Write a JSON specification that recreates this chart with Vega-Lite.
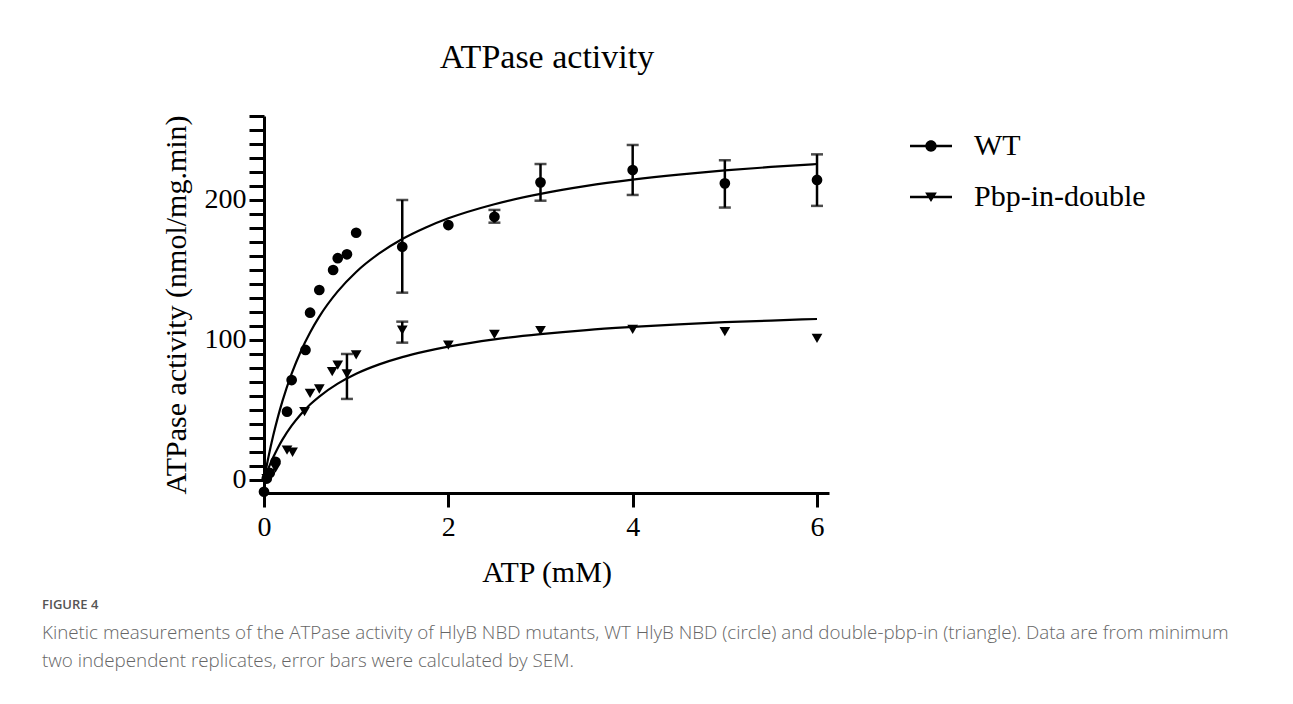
{
  "$schema": "https://vega.github.io/schema/vega-lite/v6.json",
  "width": 565,
  "height": 377,
  "autosize": {"type": "none"},
  "padding": {"left": 264, "top": 116, "right": 464, "bottom": 211},
  "background": "white",
  "datasets": {
    "points": [
      {"series": "WT", "atp": 0, "rate": -8.4},
      {"series": "WT", "atp": 0.03, "rate": 1},
      {"series": "WT", "atp": 0.0625, "rate": 5},
      {"series": "WT", "atp": 0.125, "rate": 13},
      {"series": "WT", "atp": 0.25, "rate": 48.8},
      {"series": "WT", "atp": 0.3, "rate": 71.4},
      {"series": "WT", "atp": 0.45, "rate": 92.9},
      {"series": "WT", "atp": 0.5, "rate": 119.5},
      {"series": "WT", "atp": 0.6, "rate": 135.7},
      {"series": "WT", "atp": 0.75, "rate": 150},
      {"series": "WT", "atp": 0.8, "rate": 158.4},
      {"series": "WT", "atp": 0.9, "rate": 161.2},
      {"series": "WT", "atp": 1.0, "rate": 176.6},
      {"series": "WT", "atp": 1.5, "rate": 166.6},
      {"series": "WT", "atp": 2, "rate": 182.1},
      {"series": "WT", "atp": 2.5, "rate": 188},
      {"series": "WT", "atp": 3, "rate": 212.6},
      {"series": "WT", "atp": 4, "rate": 221.4},
      {"series": "WT", "atp": 5, "rate": 211.9},
      {"series": "WT", "atp": 6, "rate": 214.3},
      {"series": "Pbp-in-double", "atp": 0.03, "rate": 1},
      {"series": "Pbp-in-double", "atp": 0.0625, "rate": 4.5},
      {"series": "Pbp-in-double", "atp": 0.125, "rate": 8.5},
      {"series": "Pbp-in-double", "atp": 0.25, "rate": 21.4},
      {"series": "Pbp-in-double", "atp": 0.31, "rate": 19.8},
      {"series": "Pbp-in-double", "atp": 0.44, "rate": 48.8},
      {"series": "Pbp-in-double", "atp": 0.5, "rate": 61.9},
      {"series": "Pbp-in-double", "atp": 0.6, "rate": 65},
      {"series": "Pbp-in-double", "atp": 0.74, "rate": 77.4},
      {"series": "Pbp-in-double", "atp": 0.8, "rate": 82.1},
      {"series": "Pbp-in-double", "atp": 0.9, "rate": 75.7},
      {"series": "Pbp-in-double", "atp": 1.0, "rate": 89.3},
      {"series": "Pbp-in-double", "atp": 1.5, "rate": 107.1},
      {"series": "Pbp-in-double", "atp": 2, "rate": 96.4},
      {"series": "Pbp-in-double", "atp": 2.5, "rate": 104},
      {"series": "Pbp-in-double", "atp": 3, "rate": 106.7},
      {"series": "Pbp-in-double", "atp": 4, "rate": 107.6},
      {"series": "Pbp-in-double", "atp": 5, "rate": 106},
      {"series": "Pbp-in-double", "atp": 6, "rate": 101.2}
    ],
    "errs": [
      {"series": "WT", "atp": 1.5, "lo": 133.8, "hi": 200},
      {"series": "WT", "atp": 2.5, "lo": 183.8, "hi": 192.9},
      {"series": "WT", "atp": 3, "lo": 199.5, "hi": 225.7},
      {"series": "WT", "atp": 4, "lo": 203.6, "hi": 239.3},
      {"series": "WT", "atp": 5, "lo": 194.6, "hi": 228.4},
      {"series": "WT", "atp": 6, "lo": 195.8, "hi": 232.6},
      {"series": "Pbp-in-double", "atp": 0.9, "lo": 57.9, "hi": 90},
      {"series": "Pbp-in-double", "atp": 1.5, "lo": 98.1, "hi": 113.1}
    ],
    "fits": [
      {"series": "WT", "atp": 0, "rate": 0},
      {"series": "WT", "atp": 0.05, "rate": 16.9},
      {"series": "WT", "atp": 0.1, "rate": 31.7},
      {"series": "WT", "atp": 0.15, "rate": 44.7},
      {"series": "WT", "atp": 0.2, "rate": 56.3},
      {"series": "WT", "atp": 0.3, "rate": 75.9},
      {"series": "WT", "atp": 0.4, "rate": 92.0},
      {"series": "WT", "atp": 0.5, "rate": 105.4},
      {"series": "WT", "atp": 0.6, "rate": 116.7},
      {"series": "WT", "atp": 0.8, "rate": 134.7},
      {"series": "WT", "atp": 1.0, "rate": 148.6},
      {"series": "WT", "atp": 1.25, "rate": 161.8},
      {"series": "WT", "atp": 1.5, "rate": 172.1},
      {"series": "WT", "atp": 1.75, "rate": 180.2},
      {"series": "WT", "atp": 2, "rate": 186.9},
      {"series": "WT", "atp": 2.5, "rate": 197.0},
      {"series": "WT", "atp": 3, "rate": 204.4},
      {"series": "WT", "atp": 3.5, "rate": 210.1},
      {"series": "WT", "atp": 4, "rate": 214.5},
      {"series": "WT", "atp": 4.5, "rate": 218.1},
      {"series": "WT", "atp": 5, "rate": 221.1},
      {"series": "WT", "atp": 5.5, "rate": 223.6},
      {"series": "WT", "atp": 6, "rate": 225.7},
      {"series": "Pbp-in-double", "atp": 0, "rate": 0},
      {"series": "Pbp-in-double", "atp": 0.05, "rate": 8.7},
      {"series": "Pbp-in-double", "atp": 0.1, "rate": 16.2},
      {"series": "Pbp-in-double", "atp": 0.15, "rate": 22.9},
      {"series": "Pbp-in-double", "atp": 0.2, "rate": 28.8},
      {"series": "Pbp-in-double", "atp": 0.3, "rate": 38.8},
      {"series": "Pbp-in-double", "atp": 0.4, "rate": 47.0},
      {"series": "Pbp-in-double", "atp": 0.5, "rate": 53.9},
      {"series": "Pbp-in-double", "atp": 0.6, "rate": 59.6},
      {"series": "Pbp-in-double", "atp": 0.8, "rate": 68.8},
      {"series": "Pbp-in-double", "atp": 1.0, "rate": 75.9},
      {"series": "Pbp-in-double", "atp": 1.25, "rate": 82.6},
      {"series": "Pbp-in-double", "atp": 1.5, "rate": 87.8},
      {"series": "Pbp-in-double", "atp": 1.75, "rate": 91.9},
      {"series": "Pbp-in-double", "atp": 2, "rate": 95.3},
      {"series": "Pbp-in-double", "atp": 2.5, "rate": 100.5},
      {"series": "Pbp-in-double", "atp": 3, "rate": 104.2},
      {"series": "Pbp-in-double", "atp": 3.5, "rate": 107.1},
      {"series": "Pbp-in-double", "atp": 4, "rate": 109.3},
      {"series": "Pbp-in-double", "atp": 4.5, "rate": 111.2},
      {"series": "Pbp-in-double", "atp": 5, "rate": 112.7},
      {"series": "Pbp-in-double", "atp": 5.5, "rate": 113.9},
      {"series": "Pbp-in-double", "atp": 6, "rate": 115.0}
    ]
  },
  "title": {
    "text": "FIGURE 4",
    "subtitle": [
      "Kinetic measurements of the ATPase activity of HlyB NBD mutants, WT HlyB NBD (circle) and double-pbp-in (triangle). Data are from minimum",
      "two independent replicates, error bars were calculated by SEM."
    ],
    "orient": "bottom",
    "anchor": "start",
    "frame": "group",
    "dx": -222,
    "offset": 12,
    "font": "Open Sans",
    "fontSize": 13,
    "fontWeight": 600,
    "color": "#555555",
    "subtitleFont": "Open Sans",
    "subtitleFontSize": 18.8,
    "subtitleFontWeight": 300,
    "subtitleColor": "#666666",
    "subtitlePadding": 12,
    "subtitleLineHeight": 28
  },
  "layer": [
    {
      "data": {"name": "fits"},
      "mark": {"type": "line", "color": "black", "strokeWidth": 2.2, "interpolate": "monotone"},
      "encoding": {
        "x": {
          "field": "atp", "type": "quantitative",
          "scale": {"domain": [0, 6.13], "nice": false, "zero": false},
          "axis": {
            "orient": "bottom",
            "title": "ATP (mM)",
            "values": [0, 2, 4, 6],
            "format": "d",
            "grid": false,
            "domainColor": "black", "domainWidth": 3,
            "tickColor": "black", "tickWidth": 3, "tickSize": 14,
            "labelFont": "Liberation Serif", "labelFontSize": 28, "labelColor": "black",
            "labelPadding": 6, "labelFlush": false, "labelOverlap": false,
            "titleFont": "Liberation Serif", "titleFontSize": 30, "titleFontWeight": "normal",
            "titleColor": "black", "titlePadding": 16
          }
        },
        "y": {
          "field": "rate", "type": "quantitative",
          "scale": {"domain": [-9.3, 260], "nice": false, "zero": false},
          "axis": {
            "title": "ATPase activity (nmol/mg.min)",
            "values": [0, 10, 20, 30, 40, 50, 60, 70, 80, 90, 100, 110, 120, 130, 140, 150, 160, 170, 180, 190, 200, 210, 220, 230, 240, 250, 260],
            "tickCount": 100,
            "format": "d",
            "labelExpr": "datum.value % 100 === 0 ? datum.label : ''",
            "grid": false,
            "domainColor": "black", "domainWidth": 3,
            "tickColor": "black", "tickWidth": 3, "tickSize": 15,
            "labelFont": "Liberation Serif", "labelFontSize": 28, "labelColor": "black",
            "labelPadding": 3, "labelOverlap": false,
            "titleFont": "Liberation Serif", "titleFontSize": 30, "titleFontWeight": "normal",
            "titleColor": "black", "titlePadding": 13,
            "encode": {
              "ticks": {
                "x2": {"condition": {"test": "datum.value % 100 !== 0", "value": -9}, "value": -15}
              }
            }
          }
        },
        "detail": {"field": "series"}
      }
    },
    {
      "data": {"name": "errs"},
      "mark": {"type": "errorbar", "color": "black", "thickness": 2.5, "ticks": {"size": 12, "thickness": 2.5, "color": "black"}},
      "encoding": {
        "x": {"field": "atp", "type": "quantitative", "axis": null},
        "y": {"field": "lo", "type": "quantitative", "title": "ATPase activity (nmol/mg.min)"},
        "y2": {"field": "hi"}
      }
    },
    {
      "data": {"name": "points"},
      "transform": [{"filter": "datum.series === 'WT'"}],
      "mark": {"type": "point", "shape": "circle", "filled": true, "opacity": 1, "size": 115, "color": "black"},
      "encoding": {
        "x": {
          "field": "atp", "type": "quantitative",
          "axis": {
            "orient": "top", "title": "ATPase activity",
            "domain": false, "ticks": false, "labels": false, "grid": false,
            "titleFont": "Liberation Serif", "titleFontSize": 34, "titleFontWeight": "normal",
            "titleColor": "black", "titleBaseline": "alphabetic", "titlePadding": 49
          }
        },
        "y": {"field": "rate", "type": "quantitative", "title": "ATPase activity (nmol/mg.min)"}
      }
    },
    {
      "data": {"name": "points"},
      "transform": [{"filter": "datum.series === 'Pbp-in-double'"}],
      "mark": {"type": "point", "shape": "triangle-down", "filled": true, "opacity": 1, "size": 115, "color": "black"},
      "encoding": {
        "x": {"field": "atp", "type": "quantitative", "axis": null},
        "y": {"field": "rate", "type": "quantitative", "title": "ATPase activity (nmol/mg.min)"}
      }
    },
    {
      "data": {"name": "points"},
      "mark": {"type": "point", "filled": true, "opacity": 0, "size": 1764, "color": "black"},
      "encoding": {
        "x": {"field": "atp", "type": "quantitative", "axis": null},
        "y": {"field": "rate", "type": "quantitative", "title": "ATPase activity (nmol/mg.min)"},
        "shape": {
          "field": "series", "type": "nominal",
          "scale": {
            "domain": ["WT", "Pbp-in-double"],
            "range": [
              "M-1,-0.055L1,-0.055L1,0.055L-1,0.055ZM0.27,0A0.27,0.27,0,1,1,-0.27,0A0.27,0.27,0,1,1,0.27,0Z",
              "M-1,-0.055L1,-0.055L1,0.055L-1,0.055ZM-0.28,-0.22L0.28,-0.22L0,0.24Z"
            ]
          },
          "legend": {
            "title": null,
            "orient": "none",
            "legendX": 646,
            "legendY": 9,
            "padding": 0,
            "symbolSize": 1764,
            "symbolOpacity": 1,
            "symbolFillColor": "black",
            "symbolStrokeColor": "black",
            "symbolStrokeWidth": 0,
            "labelFont": "Liberation Serif",
            "labelFontSize": 30,
            "labelColor": "black",
            "labelOffset": 22,
            "labelLimit": 0,
            "rowPadding": 15
          }
        }
      }
    }
  ],
  "resolve": {"axis": {"x": "independent"}},
  "config": {
    "view": {"stroke": null},
    "font": "Liberation Serif"
  }
}
